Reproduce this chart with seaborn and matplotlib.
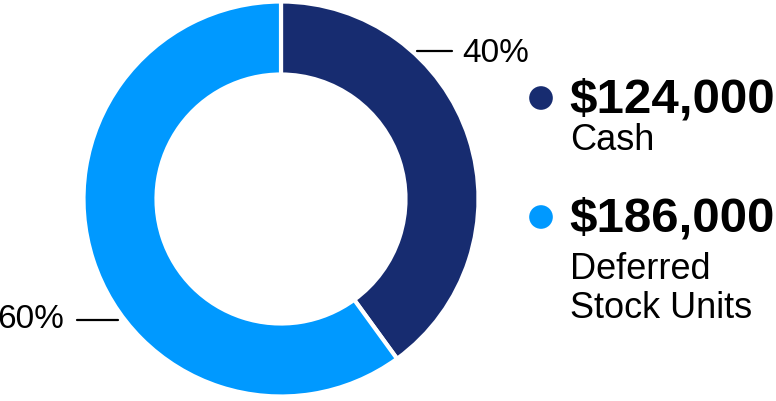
import numpy as np
import matplotlib
matplotlib.use("Agg")
import matplotlib.pyplot as plt
import seaborn as sns

categories = ["Cash", "Deferred\nStock Units"]
values = [124000, 186000]
colors = ["#172C70", "#0099FF"]

sns.set_theme(style="white")
plt.rcParams['font.family'] = ['Liberation Sans', 'DejaVu Sans']

W, H = 776, 402
fig = plt.figure(figsize=(W / 100, H / 100), dpi=100)
ax = fig.add_axes([0, 0, 1, 1])

cx, cy = 281, H - 200
R = 197.5
width = 73

wedges, _ = ax.pie(values, colors=colors, startangle=90, counterclock=False,
                   radius=R, center=(cx, cy),
                   wedgeprops=dict(width=width, edgecolor="white", linewidth=3))
ax.set_xlim(0, W)
ax.set_ylim(0, H)
ax.set_aspect("auto")
ax.axis("off")

total = sum(values)
pcts = [v / total * 100 for v in values]

def py(y):
    return H - y

# leader lines and percent labels
ax.plot([417, 452], [py(52), py(52)], color="black", lw=1.6)
ax.text(462, py(62), f"{pcts[0]:.0f}%", fontsize=24, color="black", va="baseline", ha="left")
ax.plot([77, 118], [py(321), py(321)], color="black", lw=1.6)
ax.text(64, py(328), f"{pcts[1]:.0f}%", fontsize=24, color="black", va="baseline", ha="right")

# legend
legend_base = [113, 232]
for i, (cat, val) in enumerate(zip(categories, values)):
    base = legend_base[i]
    ax.scatter([541], [py(base - 14)], s=290, color=colors[i], edgecolors="none")
    ax.text(569, py(base), f"\\${val:,.0f}", fontsize=35.5, fontweight="bold",
            color="black", va="baseline", ha="left")
    for j, line in enumerate(cat.split("\n")):
        ax.text(570, py(base + 37 + 39 * j + (10 if i == 1 else 0)),
                line, fontsize=26, color="black", va="baseline", ha="left")

fig.savefig("out.png", dpi=100)
